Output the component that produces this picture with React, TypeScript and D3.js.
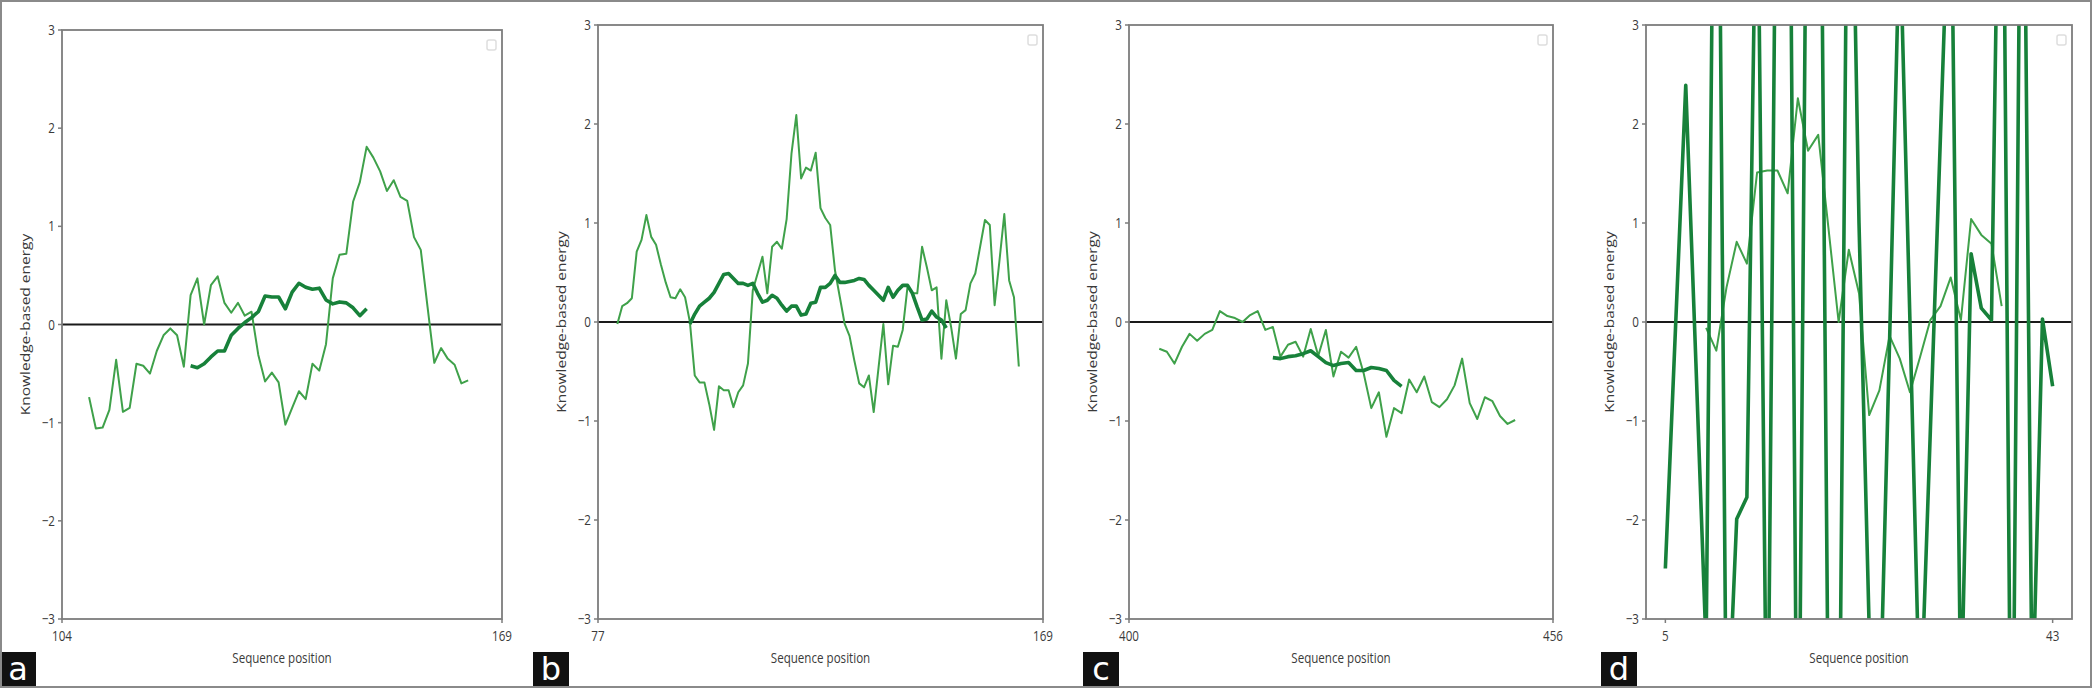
import React from "react";
import * as d3 from "d3";

// ---------- data ----------
const yTicks = [3, 2, 1, 0, -1, -2, -3];

const aThinStart = 108;
const aThin = [-0.74, -1.06, -1.05, -0.87, -0.36, -0.89, -0.85, -0.4, -0.42, -0.5, -0.27, -0.11, -0.04, -0.11, -0.43, 0.3, 0.47, 0.0, 0.4, 0.49, 0.22, 0.12, 0.22, 0.09, 0.13, -0.31, -0.58, -0.49, -0.59, -1.02, -0.85, -0.68, -0.76, -0.4, -0.47, -0.2, 0.47, 0.71, 0.72, 1.25, 1.45, 1.81, 1.7, 1.56, 1.36, 1.47, 1.3, 1.26, 0.89, 0.76, 0.18, -0.39, -0.24, -0.35, -0.41, -0.6, -0.57];
const aThickStart = 123;
const aThick = [-0.42, -0.44, -0.4, -0.33, -0.27, -0.27, -0.11, -0.04, 0.02, 0.07, 0.13, 0.29, 0.28, 0.28, 0.16, 0.33, 0.42, 0.38, 0.36, 0.37, 0.25, 0.21, 0.23, 0.22, 0.17, 0.09, 0.16];

const bThinStart = 81;
const bThin = [-0.02, 0.16, 0.19, 0.24, 0.71, 0.83, 1.08, 0.86, 0.78, 0.58, 0.4, 0.25, 0.24, 0.33, 0.25, 0.0, -0.54, -0.61, -0.61, -0.83, -1.09, -0.65, -0.69, -0.69, -0.86, -0.71, -0.64, -0.42, 0.32, 0.49, 0.66, 0.29, 0.76, 0.81, 0.74, 1.04, 1.7, 2.09, 1.45, 1.56, 1.53, 1.71, 1.15, 1.05, 0.98, 0.52, 0.25, -0.02, -0.14, -0.39, -0.62, -0.66, -0.54, -0.91, -0.46, -0.02, -0.63, -0.24, -0.25, -0.08, 0.36, 0.29, 0.29, 0.76, 0.55, 0.32, 0.35, -0.37, 0.22, -0.05, -0.37, 0.08, 0.12, 0.39, 0.49, 0.76, 1.03, 0.98, 0.17, 0.62, 1.09, 0.42, 0.25, -0.45];
const bThickStart = 96;
const bThick = [-0.02, 0.08, 0.16, 0.2, 0.24, 0.3, 0.39, 0.48, 0.49, 0.44, 0.39, 0.39, 0.37, 0.39, 0.29, 0.2, 0.22, 0.27, 0.24, 0.17, 0.11, 0.16, 0.16, 0.07, 0.08, 0.19, 0.2, 0.35, 0.35, 0.39, 0.47, 0.4, 0.4, 0.41, 0.42, 0.44, 0.43, 0.37, 0.32, 0.27, 0.22, 0.35, 0.25, 0.32, 0.37, 0.37, 0.29, 0.15, 0.02, 0.03, 0.11, 0.05, 0.02, -0.06];

const cThinStart = 404;
const cThin = [-0.27, -0.3, -0.42, -0.25, -0.12, -0.19, -0.12, -0.08, 0.11, 0.06, 0.04, 0.0, 0.07, 0.11, -0.08, -0.05, -0.35, -0.23, -0.2, -0.35, -0.07, -0.34, -0.08, -0.55, -0.3, -0.36, -0.25, -0.52, -0.87, -0.71, -1.16, -0.87, -0.92, -0.58, -0.71, -0.55, -0.81, -0.86, -0.78, -0.64, -0.37, -0.82, -0.98, -0.76, -0.8, -0.95, -1.03, -0.99];
const cThickStart = 419;
const cThick = [-0.36, -0.37, -0.35, -0.34, -0.32, -0.29, -0.35, -0.41, -0.44, -0.42, -0.41, -0.49, -0.49, -0.46, -0.47, -0.49, -0.59, -0.65];

const dThinStart = 9;
const dThin = [-0.06, -0.29, 0.35, 0.81, 0.59, 1.51, 1.53, 1.53, 1.3, 2.26, 1.73, 1.89, 0.95, 0.0, 0.73, 0.29, -0.94, -0.69, -0.14, -0.37, -0.71, -0.35, 0.02, 0.16, 0.45, 0.02, 1.04, 0.88, 0.79, 0.16];
const dThickStart = 5;
const dThick = [-2.49, -0.05, 2.39, -0.42, -3.3, 8.0, -4.4, -1.99, -1.77, 5.2, -5.0, 6.4, 8.0, -6.0, 6.7, 8.0, -4.2, -5.4, 6.6, 1.0, -3.1, -4.2, -0.2, 4.0, 0.0, -4.1, -1.1, 1.9, 4.9, -4.0, 0.69, 0.14, 0.02, 6.9, -6.0, 7.0, -4.0, 0.03, -0.65];

// ---------- layout ----------
type Panel = {
  id: string;
  left: number; right: number; top: number; bottom: number;
  xDomain: [number, number];
  xTicks: number[];
  boxX: number;
  thinStart: number; thin: number[];
  thickStart: number; thick: number[];
};

const panels: Panel[] = [
  { id: "a", left: 62, right: 502, top: 30, bottom: 619, xDomain: [104, 169], xTicks: [104, 169], boxX: 0, thinStart: aThinStart, thin: aThin, thickStart: aThickStart, thick: aThick },
  { id: "b", left: 598, right: 1043, top: 25, bottom: 619, xDomain: [77, 169], xTicks: [77, 169], boxX: 533, thinStart: bThinStart, thin: bThin, thickStart: bThickStart, thick: bThick },
  { id: "c", left: 1129, right: 1553, top: 25, bottom: 619, xDomain: [400, 456], xTicks: [400, 456], boxX: 1083, thinStart: cThinStart, thin: cThin, thickStart: cThickStart, thick: cThick },
  { id: "d", left: 1646, right: 2072, top: 25, bottom: 619, xDomain: [3.1, 44.9], xTicks: [5, 43], boxX: 1601, thinStart: dThinStart, thin: dThin, thickStart: dThickStart, thick: dThick },
];

const FONT = "'Open Sans', 'Noto Sans', sans-serif";
const TXT = "#3a3a3a";
const SX = 0.8;
const thinColor = "#3fa14a";
const thickColor = "#17813a";

function fmt(v: number) {
  return v < 0 ? "\u2212" + Math.abs(v) : String(v);
}

function PanelView({ p }: { p: Panel }) {
  const x = d3.scaleLinear().domain(p.xDomain).range([p.left, p.right]);
  const y = d3.scaleLinear().domain([-3, 3]).range([p.bottom, p.top]);
  const mk = (start: number, vals: number[]) =>
    d3
      .line<number>()
      .x((_, i) => x(start + i))
      .y((v) => y(v))(vals) || "";
  const clipId = "clip-" + p.id;
  const midX = (p.left + p.right) / 2;
  const midY = (p.top + p.bottom) / 2;
  return (
    <g>
      <defs>
        <clipPath id={clipId}>
          <rect x={p.left} y={p.top} width={p.right - p.left} height={p.bottom - p.top} />
        </clipPath>
      </defs>
      <line x1={p.left} x2={p.right} y1={y(0)} y2={y(0)} stroke="#1a1a1a" strokeWidth={2.2} />
      <g clipPath={`url(#${clipId})`}>
        <path d={mk(p.thinStart, p.thin)} fill="none" stroke={thinColor} strokeWidth={2} strokeLinejoin="round" />
        <path d={mk(p.thickStart, p.thick)} fill="none" stroke={thickColor} strokeWidth={3.6} strokeLinejoin="round" />
      </g>
      <rect x={p.left} y={p.top} width={p.right - p.left} height={p.bottom - p.top} fill="none" stroke="#7d7d7d" strokeWidth={1.8} />
      {yTicks.map((t) => (
        <g key={"y" + t}>
          <line x1={p.left - 4} x2={p.left} y1={y(t)} y2={y(t)} stroke="#7d7d7d" strokeWidth={1.5} />
          <text
            transform={`translate(${p.left - 7},${y(t) + 5}) scale(${SX},1)`}
            textAnchor="end"
            fontFamily={FONT}
            fontSize={14.5}
            fill={TXT}
          >
            {fmt(t)}
          </text>
        </g>
      ))}
      {p.xTicks.map((t) => (
        <g key={"x" + t}>
          <line x1={x(t)} x2={x(t)} y1={p.bottom} y2={p.bottom + 4} stroke="#7d7d7d" strokeWidth={1.5} />
          <text
            transform={`translate(${x(t)},${p.bottom + 22}) scale(${SX},1)`}
            textAnchor="middle"
            fontFamily={FONT}
            fontSize={14.5}
            fill={TXT}
          >
            {t}
          </text>
        </g>
      ))}
      <text
        transform={`translate(${midX},${663}) scale(${SX},1)`}
        textAnchor="middle"
        fontFamily={FONT}
        fontSize={14.5}
        fill={TXT}
      >
        Sequence position
      </text>
      <text
        transform={`translate(${p.left - 32},${midY}) scale(${SX},1) rotate(-90)`}
        textAnchor="middle"
        fontFamily={FONT}
        fontSize={15.5}
        fill={TXT}
      >
        Knowledge-based energy
      </text>
      <rect x={p.right - 15} y={p.top + 10} width={9} height={10} rx={2} fill="none" stroke="#dedede" strokeWidth={1.5} />
      <rect x={p.boxX} y={652} width={36} height={34} fill="#111" />
      <text x={p.boxX + 18} y={680} textAnchor="middle" fontFamily="'DejaVu Sans', sans-serif" fontSize={32} fill="#fff">
        {p.id}
      </text>
    </g>
  );
}

export default function App() {
  return (
    <svg
      width={2092}
      height={688}
      style={{ position: "absolute", left: 0, top: 0, background: "#fff" }}
    >
      <rect x={0} y={0} width={2092} height={688} fill="#fff" />
      {panels.map((p) => (
        <PanelView key={p.id} p={p} />
      ))}
      <rect x={1} y={1} width={2090} height={686} fill="none" stroke="#8a8a8a" strokeWidth={2} />
    </svg>
  );
}
